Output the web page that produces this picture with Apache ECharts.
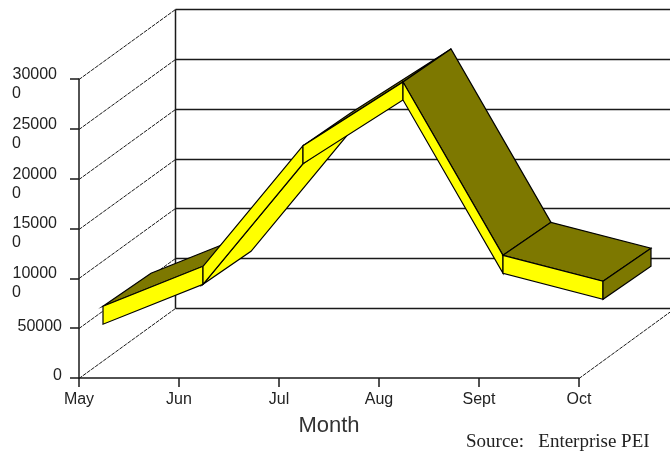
<!DOCTYPE html>
<html>
<head>
<meta charset="utf-8">
<style>
  html, body { margin: 0; padding: 0; background: #fff; }
  #chart { width: 670px; height: 462px; }
</style>
<script src="https://cdn.jsdelivr.net/npm/echarts@6/dist/echarts.min.js"></script>
</head>
<body>
<div id="chart"></div>
<script>
const months = ['May', 'Jun', 'Jul', 'Aug', 'Sept', 'Oct'];
const values = [55000, 95000, 216000, 280000, 106000, 80000];
const yTicks = [0, 50000, 100000, 150000, 200000, 250000, 300000];
const yTickLabels = ['0', '50000', '100000', '150000', '200000', '250000', '300000'];

const LINE = '#1a1a1a';
const OLIVE = '#7d7800';
const YELLOW = '#ffff00';

// fake 3d: pixel offsets of the back wall and of the ribbon front / back edge
const wall = [96, -70];
const ribbonFront = [24, -17];
const ribbonBack = [72, -50];
const ribbonHeight = 18;

const chart = echarts.init(document.getElementById('chart'));

const shift = (p, d, down) => [p[0] + d[0], p[1] + d[1] + (down || 0)];

const poly = (points, fill) => ({
  type: 'polygon',
  shape: { points: points },
  style: { fill: fill, stroke: '#000', lineWidth: 1.2 }
});

const seg = (a, b, width, dash) => ({
  type: 'line',
  shape: { x1: a[0], y1: a[1], x2: b[0], y2: b[1] },
  style: { stroke: LINE, lineWidth: width, lineDash: dash || null }
});

// dashed depth lines and the back wall lines, one group per y tick
const renderWall = (params, api) => {
  const v = api.value(0);
  const y = Math.round(api.coord([0, v])[1]) + 0.5;
  const xStart = api.coord([0, v])[0];
  const xEnd = api.coord([months.length - 1, v])[0];
  const back = [xStart + wall[0] + 0.5, y + wall[1]];
  const children = [
    seg([xStart, y], back, 1, [4, 1]),
    seg(back, [xEnd + wall[0] + 10, back[1]], 1.5)
  ];
  if (v === 0) {
    // right side of the floor
    children.push(seg([xEnd, y], [xEnd + wall[0], y + wall[1]], 1, [4, 1]));
    const top = Math.round(api.coord([0, yTicks[yTicks.length - 1]])[1]) + 0.5 + wall[1];
    children.push(seg(back, [back[0], top], 1.5));
  }
  return { type: 'group', children: children };
};

// one ribbon piece per month pair, drawn left to right
const renderRibbon = (params, api) => {
  const i = api.value(0);
  const a = api.coord([i, api.value(1)]);
  const children = [];
  const ft0 = shift(a, ribbonFront);
  const bt0 = shift(a, ribbonBack);
  if (i < months.length - 1) {
    const b = api.coord([i + 1, api.value(2)]);
    const ft1 = shift(b, ribbonFront);
    const bt1 = shift(b, ribbonBack);
    const fb0 = shift(a, ribbonFront, ribbonHeight);
    const fb1 = shift(b, ribbonFront, ribbonHeight);
    const bb0 = shift(a, ribbonBack, ribbonHeight);
    const bb1 = shift(b, ribbonBack, ribbonHeight);
    const depthSlope = (ribbonFront[1] - ribbonBack[1]) / (ribbonBack[0] - ribbonFront[0]);
    const slope = (ft0[1] - ft1[1]) / (ft1[0] - ft0[0]);
    if (slope > depthSlope) {
      // steeper than the depth direction, the underside shows
      children.push(poly([fb0, fb1, bb1, bb0], YELLOW));
    } else {
      children.push(poly([ft0, ft1, bt1, bt0], OLIVE));
    }
    children.push(poly([ft0, ft1, fb1, fb0], YELLOW));
  } else {
    // end cap
    children.push(poly([ft0, bt0, shift(a, ribbonBack, ribbonHeight), shift(a, ribbonFront, ribbonHeight)], OLIVE));
  }
  return { type: 'group', children: children };
};

chart.setOption({
  animation: false,
  backgroundColor: '#fff',
  title: {
    text: 'Source:   Enterprise PEI',
    left: 466,
    top: 433,
    padding: 0,
    textStyle: {
      fontFamily: 'Liberation Serif',
      fontSize: 19,
      fontWeight: 'normal',
      color: '#222'
    }
  },
  grid: { left: 79, right: 91, top: 79, bottom: 84 },
  xAxis: {
    type: 'category',
    data: months,
    boundaryGap: false,
    name: 'Month',
    nameLocation: 'middle',
    nameGap: 37,
    nameTextStyle: { fontFamily: 'Liberation Sans', fontSize: 22, color: '#333' },
    axisLine: { lineStyle: { color: LINE, width: 1.5 } },
    axisTick: { length: 9, lineStyle: { color: LINE, width: 1.5 } },
    axisLabel: {
      margin: 14,
      fontFamily: 'Liberation Sans',
      fontSize: 16,
      color: '#222',
      interval: 0,
      hideOverlap: false
    },
    splitLine: { show: false }
  },
  yAxis: {
    type: 'value',
    min: 0,
    max: 300000,
    interval: 50000,
    axisLine: { show: true, lineStyle: { color: LINE, width: 1.5 } },
    axisTick: { show: true, length: 9, lineStyle: { color: LINE, width: 1.5 } },
    axisLabel: {
      margin: 17,
      hideOverlap: false,
      showMinLabel: true,
      showMaxLabel: true,
      fontFamily: 'Liberation Sans',
      fontSize: 16,
      color: '#222',
      formatter: (v, idx) => {
        const label = yTickLabels[idx];
        // the long labels wrap after five digits
        if (label.length > 5) {
          return '{s| }\n{w|' + label.slice(0, 5) + '}\n{n|' + label.slice(5) + '}';
        }
        return '{r|' + label + '}';
      },
      rich: {
        s: { fontSize: 16, lineHeight: 10 },
        w: { fontSize: 16, lineHeight: 19, color: '#222', padding: [0, 5, 0, 0] },
        n: { fontSize: 16, lineHeight: 19, color: '#222', width: 50, align: 'left' },
        r: { fontSize: 16, lineHeight: 19, color: '#222', padding: [0, 0, 4, 0] }
      }
    },
    splitLine: { show: false }
  },
  series: [
    {
      type: 'custom',
      coordinateSystem: 'cartesian2d',
      renderItem: renderWall,
      encode: { y: 0 },
      data: yTicks.map(v => [v]),
      silent: true,
      z: 1
    },
    {
      type: 'custom',
      coordinateSystem: 'cartesian2d',
      renderItem: renderRibbon,
      encode: { x: 0, y: 1 },
      data: values.map((v, i) => [i, v, i < values.length - 1 ? values[i + 1] : v]),
      silent: true,
      z: 3
    }
  ]
});
</script>
</body>
</html>
